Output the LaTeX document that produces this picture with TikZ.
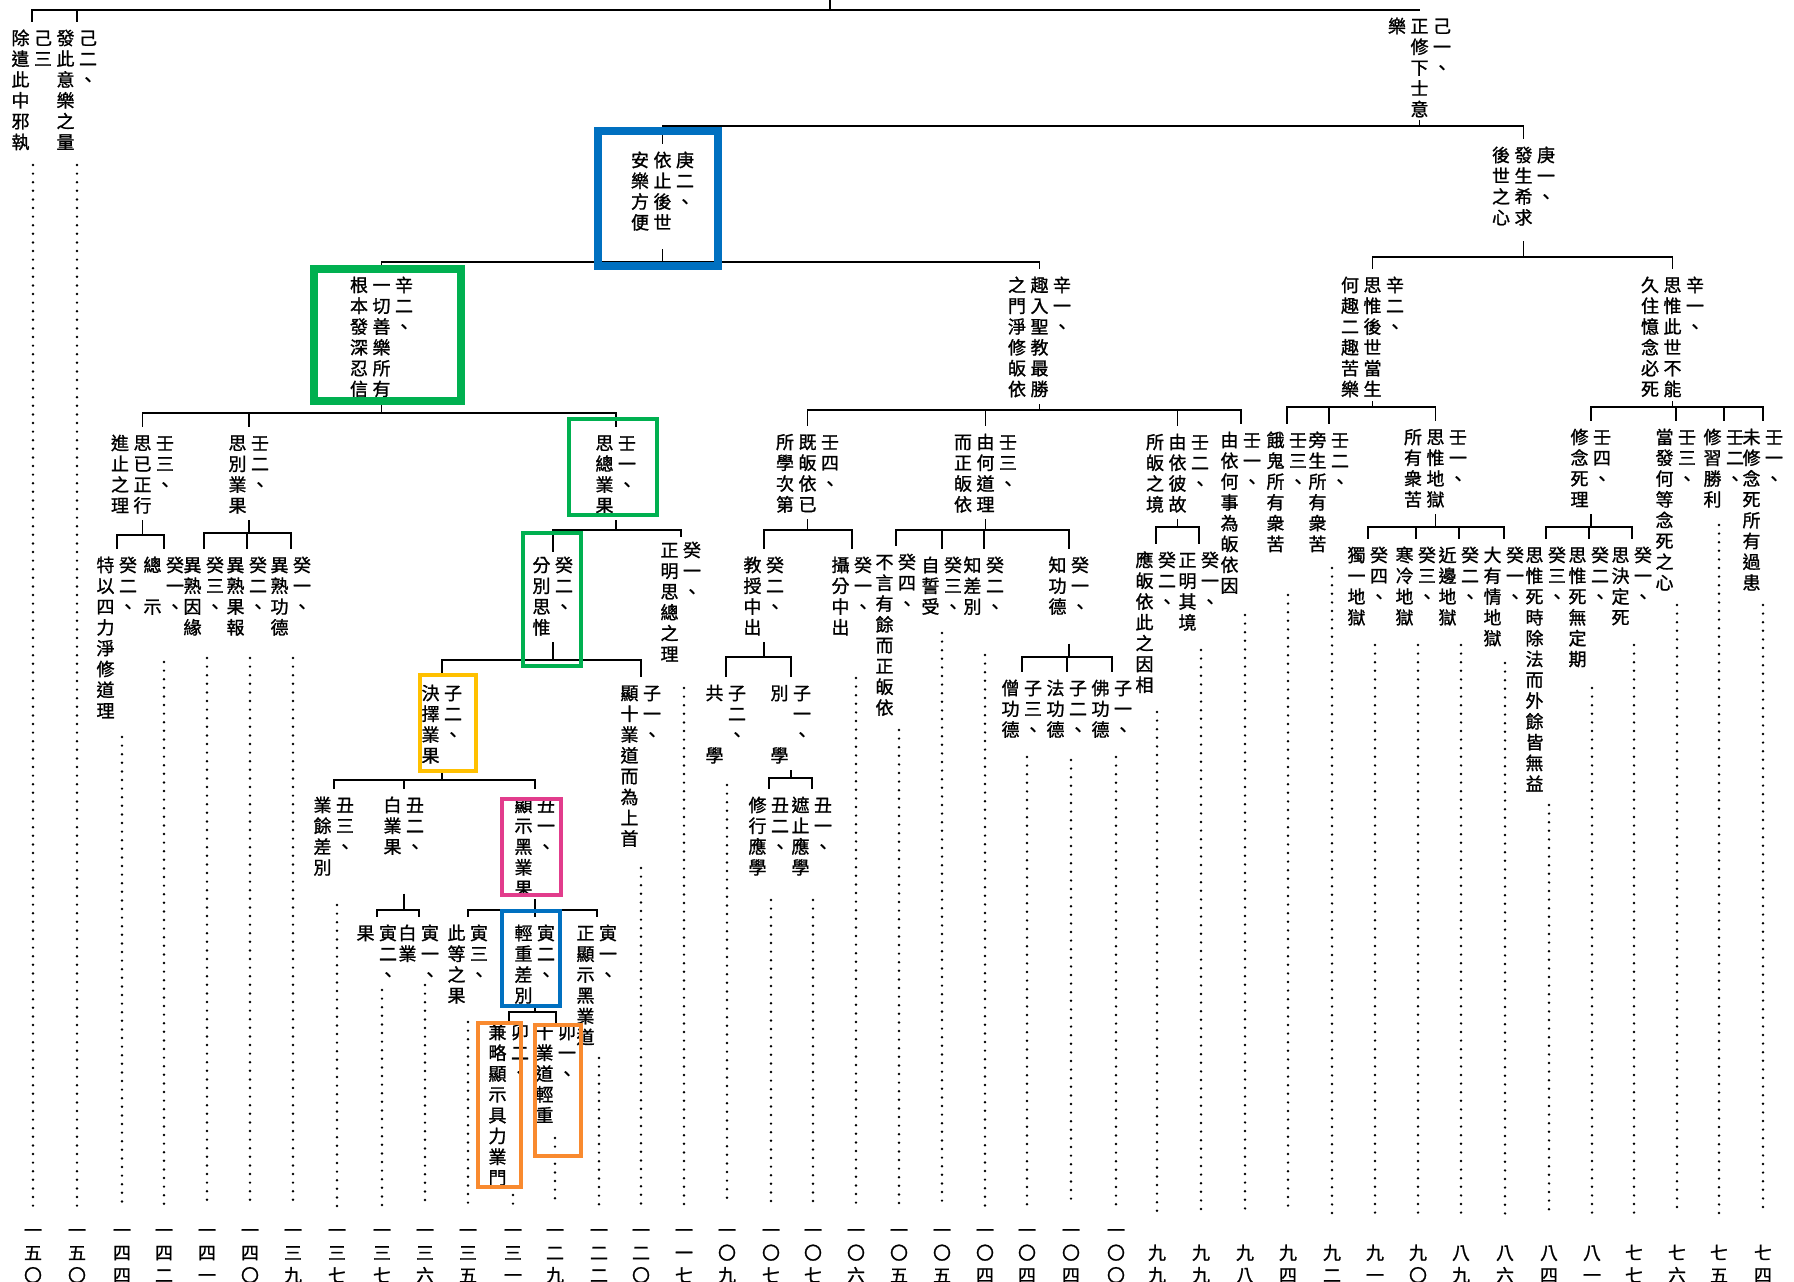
\documentclass[tikz,border=0pt]{standalone}
\usepackage{fontspec}
\usepackage{tikz}
\newfontfamily\cjk[FakeBold=1.2]{Noto Sans CJK TC}
\definecolor{kgreen}{HTML}{00B050}
\definecolor{kblue}{HTML}{0070C0}
\definecolor{kgold}{HTML}{FFC000}
\definecolor{kpink}{HTML}{E23C8C}
\definecolor{korange}{HTML}{F98A2F}

\newlength\colw
\setlength\colw{22.5pt}
\def\vtx#1{\ifx#1\relax\else\hbox to\colw{\hss\vrule height 15.8pt depth 2.2pt width 0pt\relax #1\hss}\expandafter\vtx\fi}
\newcommand\vcol[1]{\vtop{\baselineskip=20.8pt\lineskiplimit=-20pt\vtx#1\relax}}
\newcommand\vtwo[2]{\hbox{\vcol{#2}\vcol{#1}}}
\newcommand\vthree[3]{\hbox{\vcol{#3}\vcol{#2}\vcol{#1}}}
\newcommand\vnum[1]{\vbox{\baselineskip=22.5pt\lineskiplimit=-20pt\expandafter\vtx#1\relax}}

\newcommand\kbranch[5]{%
  \coordinate (bar) at (0,#3);
  \draw[tree] ([yshift=-#2pt]#1.south) -- (#1.south |- bar);
  \foreach \kid in {#5}{\draw[tree] (#1.south |- bar) -| ([yshift=#4pt]\kid.north);}}

\tikzset{
  lbl/.style={anchor=base east, inner sep=0pt, outer sep=0pt, xshift=11.25pt, yshift=-6.8pt},
  pgnum/.style={anchor=base, inner sep=0pt, outer sep=0pt},
  tree/.style={line width=1.8pt},
  dotline/.style={line width=2.7pt, line cap=round, dash pattern=on 0pt off 8.6pt},
  bigbox/.style={line width=8pt},
  smallbox/.style={line width=4pt}
}

\begin{document}
\begin{tikzpicture}[x=1pt, y=-1pt, font=\cjk\fontsize{18pt}{20.8pt}\selectfont]
  \fill[white] (0,0) rectangle (1794,1282);
  \useasboundingbox (0,0) rectangle (1794,1282);

  \node[lbl] (l3) at (43,38) {\vtwo{己三}{除遣此中邪執}};
  \node[lbl] (l2) at (88,38) {\vtwo{己二、}{發此意樂之量}};
  \node[lbl] (l1) at (1442,26) {\vthree{己一、}{正修下士意}{樂}};

  \node[lbl] (g2) at (685,160) {\vthree{庚二、}{依止後世}{安樂方便}};
  \node[lbl] (g1) at (1546,155) {\vthree{庚一、}{發生希求}{後世之心}};

  \node[lbl] (x2) at (404,285) {\vthree{辛二、}{一切善樂所有}{根本發深忍信}};
  \node[lbl] (x1) at (1062,285) {\vthree{辛一、}{趣入聖教最勝}{之門淨修皈依}};
  \node[lbl] (x4) at (1395,285) {\vthree{辛二、}{思惟後世當生}{何趣二趣苦樂}};
  \node[lbl] (x3) at (1695,285) {\vthree{辛一、}{思惟此世不能}{久住憶念必死}};

  \node[lbl] (r3) at (165,443) {\vthree{壬三、}{思已正行}{進止之理}};
  \node[lbl] (r2) at (260,443) {\vtwo{壬二、}{思別業果}};
  \node[lbl] (r1) at (627,443) {\vtwo{壬一、}{思總業果}};
  \node[lbl] (r4b) at (830,442) {\vthree{壬四、}{既皈依已}{所學次第}};
  \node[lbl] (r3b) at (1008,442) {\vthree{壬三、}{由何道理}{而正皈依}};
  \node[lbl] (r2b) at (1200,442) {\vthree{壬二、}{由依彼故}{所皈之境}};
  \node[lbl] (r1b) at (1252,440) {\vtwo{壬一、}{由依何事為皈依因}};
  \node[lbl] (r3c) at (1298,440) {\vtwo{壬三、}{餓鬼所有衆苦}};
  \node[lbl] (r2c) at (1340,440) {\vtwo{壬二、}{旁生所有衆苦}};
  \node[lbl] (r1c) at (1458,437) {\vthree{壬一、}{思惟地獄}{所有衆苦}};
  \node[lbl] (r4d) at (1602,437) {\vtwo{壬四、}{修念死理}};
  \node[lbl] (r3d) at (1687,437) {\vtwo{壬三、}{當發何等念死之心}};
  \node[lbl] (r2d) at (1735,437) {\vtwo{壬二、}{修習勝利}};
  \node[lbl] (r1d) at (1774,437) {\vtwo{壬一、}{未修念死所有過患}};

  \node[lbl] (k2) at (128,565) {\vtwo{癸二、}{特以四力淨修道理}};
  \node[lbl] (k1) at (175,565) {\vtwo{癸一、}{總~示}};
  \node[lbl] (k3a) at (215,565) {\vtwo{癸三、}{異熟因緣}};
  \node[lbl] (k2a) at (258,565) {\vtwo{癸二、}{異熟果報}};
  \node[lbl] (k1a) at (302,565) {\vtwo{癸一、}{異熟功德}};
  \node[lbl] (k2b) at (564,565) {\vtwo{癸二、}{分別思惟}};
  \node[lbl] (k1b) at (692,550) {\vtwo{癸一、}{正明思總之理}};
  \node[lbl] (k2c) at (775,565) {\vtwo{癸二、}{教授中出}};
  \node[lbl] (k1c) at (863,565) {\vtwo{癸一、}{攝分中出}};
  \node[lbl] (k4d) at (907,562) {\vtwo{癸四、}{不言有餘而正皈依}};
  \node[lbl] (k3d) at (953,565) {\vtwo{癸三、}{自誓受}};
  \node[lbl] (k2d) at (995,565) {\vtwo{癸二、}{知差別}};
  \node[lbl] (k1d) at (1080,565) {\vtwo{癸一、}{知功德}};
  \node[lbl] (k2f) at (1167,560) {\vtwo{癸二、}{應皈依此之因相}};
  \node[lbl] (k1f) at (1210,560) {\vtwo{癸一、}{正明其境}};
  \node[lbl] (k4g) at (1379,555) {\vtwo{癸四、}{獨一地獄}};
  \node[lbl] (k3g) at (1427,555) {\vtwo{癸三、}{寒冷地獄}};
  \node[lbl] (k2g) at (1470,555) {\vtwo{癸二、}{近邊地獄}};
  \node[lbl] (k1g) at (1515,555) {\vtwo{癸一、}{大有情地獄}};
  \node[lbl] (k3h) at (1557,555) {\vtwo{癸三、}{思惟死時除法而外餘皆無益}};
  \node[lbl] (k2h) at (1600,555) {\vtwo{癸二、}{思惟死無定期}};
  \node[lbl] (k1h) at (1643,555) {\vtwo{癸一、}{思決定死}};

  \node[lbl] (z2) at (453,693) {\vtwo{子二、}{決擇業果}};
  \node[lbl] (z1) at (652,693) {\vtwo{子一、}{顯十業道而為上首}};
  \node[lbl] (z2c) at (737,693) {\vtwo{子二、}{共~~學}};
  \node[lbl] (z1c) at (802,693) {\vtwo{子一、}{別~~學}};
  \node[lbl] (z3e) at (1033,688) {\vtwo{子三、}{僧功德}};
  \node[lbl] (z2e) at (1078,688) {\vtwo{子二、}{法功德}};
  \node[lbl] (z1e) at (1123,688) {\vtwo{子一、}{佛功德}};

  \node[lbl] (c3) at (345,805) {\vtwo{丑三、}{業餘差別}};
  \node[lbl] (c2) at (415,805) {\vtwo{丑二、}{白業果}};
  \node[lbl] (c1) at (546,805) {\vtwo{丑一、}{顯示黑業果}};
  \node[lbl] (c2c) at (780,805) {\vtwo{丑二、}{修行應學}};
  \node[lbl] (c1c) at (823,805) {\vtwo{丑一、}{遮止應學}};

  \node[lbl] (y2) at (388,933) {\vtwo{寅二、}{果}};
  \node[lbl] (y1) at (430,933) {\vtwo{寅一、}{白業}};
  \node[lbl] (y3b) at (479,933) {\vtwo{寅三、}{此等之果}};
  \node[lbl] (y2b) at (546,933) {\vtwo{寅二、}{輕重差別}};
  \node[lbl] (y1b) at (608,933) {\vtwo{寅一、}{正顯示黑業道}};

  \node[lbl] (m2) at (520,1032) {\vtwo{卯二、}{兼略顯示具力業門}};
  \node[lbl] (m1) at (567,1032) {\vtwo{卯一、}{十業道輕重}};

  \coordinate (top) at (830,0);
  \coordinate (bar) at (0,10);
  \draw[tree] (top) -- (top |- bar);
  \foreach \kid in {l3,l2,l1}{\draw[tree] (top |- bar) -| ([yshift=7pt]\kid.north);}

  \kbranch{l1}{2}{126}{7}{g2,g1}
  \kbranch{g2}{18}{262}{7}{x2,x1}
  \kbranch{g1}{15}{257}{7}{x4,x3}
  \kbranch{x2}{6}{413}{7}{r3,r2,r1}
  \kbranch{x1}{6}{410}{7}{r4b,r3b,r2b,r1b}
  \kbranch{x4}{3}{407}{7}{r3c,r2c,r1c}
  \kbranch{x3}{3}{407}{7}{r4d,r3d,r2d,r1d}
  \kbranch{r3}{6}{535}{7}{k2,k1}
  \kbranch{r2}{6}{533}{7}{k3a,k2a,k1a}
  \kbranch{r1}{6}{530}{4}{k2b,k1b}
  \kbranch{k2b}{6}{660}{7}{z2,z1}
  \kbranch{z2}{6}{780}{7}{c3,c2,c1}
  \kbranch{c2}{38}{910}{7}{y2,y1}
  \kbranch{c1}{2}{910}{7}{y3b,y2b,y1b}
  \kbranch{y2b}{2}{1012}{0}{m2,m1}
  \kbranch{r4b}{6}{530}{7}{k2c,k1c}
  \kbranch{k2c}{6}{657}{7}{z2c,z1c}
  \kbranch{z1c}{6}{778}{7}{c2c,c1c}
  \kbranch{r3b}{6}{530}{7}{k4d,k3d,k2d,k1d}
  \kbranch{k1d}{28}{657}{7}{z3e,z2e,z1e}
  \kbranch{r2b}{6}{527}{7}{k2f,k1f}
  \kbranch{r1c}{6}{527}{7}{k4g,k3g,k2g,k1g}
  \kbranch{r4d}{6}{527}{7}{k3h,k2h,k1h}

  \foreach \x/\ys/\num/\sh [count=\i] in {
      33/165/一五〇/15, 77/165/一五〇/15, 122/737/一四四/15, 164/662/一四二/15,
      207/658/一四一/15, 250/658/一四〇/15, 293/658/一三九/15, 337/905/一三七/15,
      382/990/一三七/15, 425/985/一三六/15, 468/1022/一三五/15, 513/1195/一三一/15,
      555/1138/一二九/15, 599/1058/一二二/15, 641/868/一二〇/15, 684/688/一一七/15,
      727/785/一〇九/15, 771/900/一〇七/15, 813/900/一〇七/15, 856/678/一〇六/15,
      899/730/一〇五/15, 942/633/一〇五/15, 985/655/一〇四/15, 1027/757/一〇四/15,
      1071/760/一〇四/15, 1116/757/一〇〇/15, 1157/712/九九/30, 1201/650/九九/30,
      1245/615/九八/30, 1288/595/九四/30, 1332/568/九二/30, 1375/645/九一/30,
      1418/645/九〇/30, 1461/645/八九/30, 1505/663/八六/30, 1549/805/八四/30,
      1592/688/八一/30, 1634/645/七七/30, 1677/605/七六/30, 1719/525/七五/30,
      1763/605/七四/30}{
    \node[pgnum] (p\i) at (\x,1282) {\vnum{\num}};
    \coordinate (d\i) at (\x,\ys);
    \draw[dotline, shorten >=\sh pt] (d\i) -- (p\i.north);
  }

  \draw[bigbox, kblue] (598,131) rectangle (718,266);
  \draw[bigbox, kgreen] (314,269) rectangle (461,401);
  \draw[smallbox, kgreen] (569,419) rectangle (657,515);
  \draw[smallbox, kgreen] (523,533) rectangle (581,666);
  \draw[smallbox, kgold] (420,675) rectangle (476,771);
  \draw[smallbox, kpink] (502,799) rectangle (561,895);
  \draw[smallbox, kblue] (502,911) rectangle (560,1006);
  \draw[smallbox, korange] (478,1023) rectangle (521,1187);
  \draw[smallbox, korange] (535,1025) rectangle (581,1156);
\end{tikzpicture}
\end{document}
